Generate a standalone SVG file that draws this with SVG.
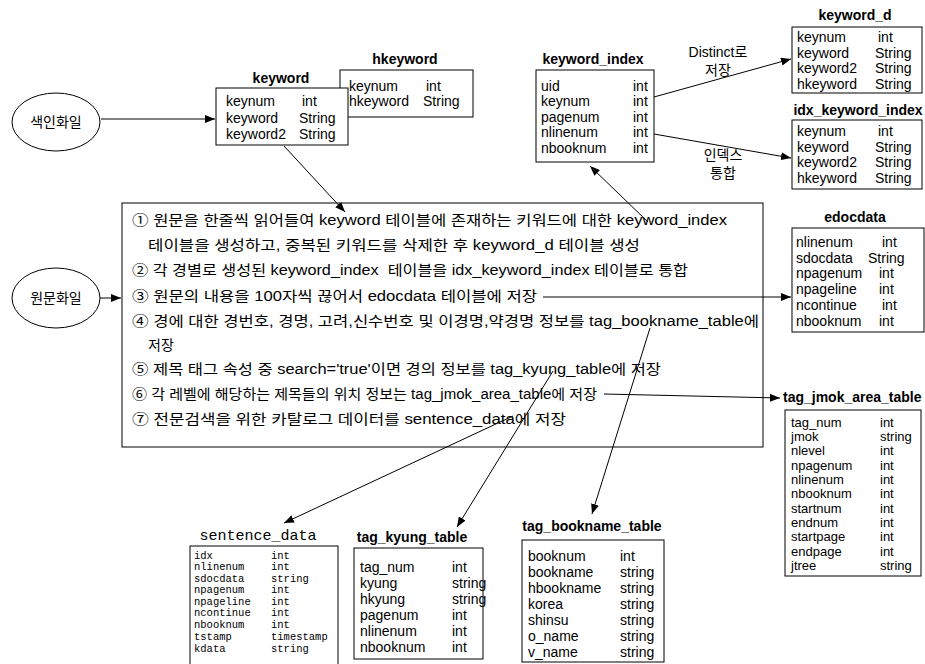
<svg xmlns="http://www.w3.org/2000/svg" width="925" height="664" viewBox="0 0 925 664">
<style>
text { font-family: "Liberation Sans", "Noto Sans CJK KR", sans-serif; font-size: 14px; fill: #000; }
.h { font-weight: bold; font-size: 14px; text-anchor: middle; }
.sm { font-size: 13px; }
.mono { font-family: "Liberation Mono", "Noto Sans CJK KR", monospace; font-size: 10.5px; }
.monoh { font-family: "Liberation Mono", "Noto Sans CJK KR", monospace; font-size: 15px; text-anchor: middle; }
.c { text-anchor: middle; }
.box { fill: #fff; stroke: #000; stroke-width: 1; }
.ln { fill: none; stroke: #000; stroke-width: 1; marker-end: url(#ah); }
</style>
<defs>
<marker id="ah" markerUnits="userSpaceOnUse" markerWidth="10" markerHeight="8" refX="10" refY="4" orient="auto">
<path d="M0,0 L10,4 L0,8 z" fill="#000"/>
</marker>
</defs>
<rect width="925" height="664" fill="#fff"/>

<g id="n-saegin">
<ellipse class="box" cx="56" cy="122" rx="44" ry="29"/>
<text class="c" x="56" y="127">색인화일</text>
</g>

<g id="n-wonmun">
<ellipse class="box" cx="56" cy="298" rx="44" ry="30"/>
<text class="c" x="56" y="303">원문화일</text>
</g>

<g id="n-hkeyword">
<text class="h" x="405" y="64">hkeyword</text>
<rect class="box" x="340" y="70" width="133" height="47"/>
<text x="349" y="91">keynum</text><text x="426" y="91">int</text>
<text x="349" y="106">hkeyword</text><text x="423" y="106">String</text>
</g>

<g id="n-keyword">
<text class="h" x="281" y="83">keyword</text>
<rect class="box" x="216" y="88" width="132" height="57"/>
<text x="226" y="106">keynum</text><text x="302" y="106">int</text>
<text x="226" y="123">keyword</text><text x="299" y="123">String</text>
<text x="226" y="139">keyword2</text><text x="299" y="139">String</text>
</g>

<g id="n-keyword_index">
<text class="h" x="593" y="64">keyword_index</text>
<rect class="box" x="536" y="70" width="118" height="92"/>
<text x="541" y="91">uid</text><text x="633" y="91">int</text>
<text x="541" y="106">keynum</text><text x="633" y="106">int</text>
<text x="541" y="122">pagenum</text><text x="633" y="122">int</text>
<text x="541" y="137">nlinenum</text><text x="633" y="137">int</text>
<text x="541" y="153">nbooknum</text><text x="633" y="153">int</text>
</g>

<g id="n-keyword_d">
<text class="h" x="855" y="20">keyword_d</text>
<rect class="box" x="792" y="27" width="130" height="66"/>
<text x="797" y="42">keynum</text><text x="878" y="42">int</text>
<text x="797" y="58">keyword</text><text x="875" y="58">String</text>
<text x="797" y="73">keyword2</text><text x="875" y="73">String</text>
<text x="797" y="89">hkeyword</text><text x="875" y="89">String</text>
</g>

<g id="n-idx_keyword_index">
<text class="h" x="858" y="115">idx_keyword_index</text>
<rect class="box" x="792" y="120" width="130" height="69"/>
<text x="797" y="136">keynum</text><text x="878" y="136">int</text>
<text x="797" y="152">keyword</text><text x="875" y="152">String</text>
<text x="797" y="167">keyword2</text><text x="875" y="167">String</text>
<text x="797" y="183">hkeyword</text><text x="875" y="183">String</text>
</g>

<g id="n-process">
<rect class="box" x="122" y="203" width="641" height="244"/>
<text x="132" y="225" textLength="595" lengthAdjust="spacingAndGlyphs">① 원문을 한줄씩 읽어들여 keyword 테이블에 존재하는 키워드에 대한 keyword_index</text>
<text x="148" y="250" textLength="492" lengthAdjust="spacingAndGlyphs">테이블을 생성하고, 중복된 키워드를 삭제한 후 keyword_d 테이블 생성</text>
<text x="132" y="275" textLength="556" lengthAdjust="spacingAndGlyphs" xml:space="preserve">② 각 경별로 생성된 keyword_index  테이블을 idx_keyword_index 테이블로 통합</text>
<text x="132" y="301" textLength="405" lengthAdjust="spacingAndGlyphs">③ 원문의 내용을 100자씩 끊어서 edocdata 테이블에 저장</text>
<text x="132" y="326" textLength="627" lengthAdjust="spacingAndGlyphs">④ 경에 대한 경번호, 경명, 고려,신수번호 및 이경명,약경명 정보를 tag_bookname_table에</text>
<text x="148" y="350">저장</text>
<text x="132" y="374" textLength="529" lengthAdjust="spacingAndGlyphs">⑤ 제목 태그 속성 중 search='true'이면 경의 정보를 tag_kyung_table에 저장</text>
<text x="132" y="399" textLength="465" lengthAdjust="spacingAndGlyphs">⑥ 각 레벨에 해당하는 제목들의 위치 정보는 tag_jmok_area_table에 저장</text>
<text x="132" y="424" textLength="434" lengthAdjust="spacingAndGlyphs">⑦ 전문검색을 위한 카탈로그 데이터를 sentence_data에 저장</text>
</g>

<g id="n-edocdata">
<text class="h" x="855" y="222">edocdata</text>
<rect class="box" x="792" y="228" width="132" height="104"/>
<text x="796" y="247">nlinenum</text><text x="882" y="247">int</text>
<text x="796" y="263">sdocdata</text><text x="868" y="263">String</text>
<text x="796" y="278">npagenum</text><text x="879" y="278">int</text>
<text x="796" y="294">npageline</text><text x="879" y="294">int</text>
<text x="796" y="310">ncontinue</text><text x="882" y="310">int</text>
<text x="796" y="326">nbooknum</text><text x="879" y="326">int</text>
</g>

<g id="n-tag_jmok_area_table">
<text class="h" x="783" y="402" style="text-anchor:start">tag_jmok_area_table</text>
<rect class="box" x="785" y="410" width="136" height="166"/>
<text class="sm" x="791" y="427">tag_num</text><text class="sm" x="880" y="427">int</text>
<text class="sm" x="791" y="441">jmok</text><text class="sm" x="880" y="441">string</text>
<text class="sm" x="791" y="455">nlevel</text><text class="sm" x="880" y="455">int</text>
<text class="sm" x="791" y="470">npagenum</text><text class="sm" x="880" y="470">int</text>
<text class="sm" x="791" y="484">nlinenum</text><text class="sm" x="880" y="484">int</text>
<text class="sm" x="791" y="498">nbooknum</text><text class="sm" x="880" y="498">int</text>
<text class="sm" x="791" y="513">startnum</text><text class="sm" x="880" y="513">int</text>
<text class="sm" x="791" y="527">endnum</text><text class="sm" x="880" y="527">int</text>
<text class="sm" x="791" y="541">startpage</text><text class="sm" x="880" y="541">int</text>
<text class="sm" x="791" y="556">endpage</text><text class="sm" x="880" y="556">int</text>
<text class="sm" x="791" y="570">jtree</text><text class="sm" x="880" y="570">string</text>
</g>

<g id="n-sentence_data">
<text class="monoh" x="258" y="540">sentence_data</text>
<rect class="box" x="190" y="546" width="148" height="120"/>
<text class="mono" x="194" y="559">idx</text><text class="mono" x="271" y="559">int</text>
<text class="mono" x="194" y="570">nlinenum</text><text class="mono" x="271" y="570">int</text>
<text class="mono" x="194" y="582">sdocdata</text><text class="mono" x="271" y="582">string</text>
<text class="mono" x="194" y="593">npagenum</text><text class="mono" x="271" y="593">int</text>
<text class="mono" x="194" y="605">npageline</text><text class="mono" x="271" y="605">int</text>
<text class="mono" x="194" y="616">ncontinue</text><text class="mono" x="271" y="616">int</text>
<text class="mono" x="194" y="628">nbooknum</text><text class="mono" x="271" y="628">int</text>
<text class="mono" x="194" y="640">tstamp</text><text class="mono" x="271" y="640">timestamp</text>
<text class="mono" x="194" y="652">kdata</text><text class="mono" x="271" y="652">string</text>
</g>

<g id="n-tag_kyung_table">
<text class="h" x="412" y="542">tag_kyung_table</text>
<rect class="box" x="354" y="548" width="129" height="111"/>
<text x="360" y="572">tag_num</text><text x="452" y="572">int</text>
<text x="360" y="588">kyung</text><text x="452" y="588">string</text>
<text x="360" y="604">hkyung</text><text x="452" y="604">string</text>
<text x="360" y="620">pagenum</text><text x="452" y="620">int</text>
<text x="360" y="636">nlinenum</text><text x="452" y="636">int</text>
<text x="360" y="652">nbooknum</text><text x="452" y="652">int</text>
</g>

<g id="n-tag_bookname_table">
<text class="h" x="592" y="531">tag_bookname_table</text>
<rect class="box" x="522" y="540" width="142" height="122"/>
<text x="528" y="561">booknum</text><text x="620" y="561">int</text>
<text x="528" y="577">bookname</text><text x="620" y="577">string</text>
<text x="528" y="593">hbookname</text><text x="620" y="593">string</text>
<text x="528" y="609">korea</text><text x="620" y="609">string</text>
<text x="528" y="625">shinsu</text><text x="620" y="625">string</text>
<text x="528" y="641">o_name</text><text x="620" y="641">string</text>
<text x="528" y="657">v_name</text><text x="620" y="657">string</text>
</g>

<g id="connectors">
<line class="ln" x1="101" y1="119" x2="215" y2="119"/>
<line class="ln" x1="284" y1="146" x2="345" y2="212"/>
<line class="ln" x1="648" y1="222" x2="590" y2="166"/>
<line class="ln" x1="654" y1="97" x2="791" y2="59"/>
<line class="ln" x1="654" y1="134" x2="791" y2="158"/>
<line class="ln" x1="100" y1="298" x2="121" y2="298"/>
<line class="ln" x1="543" y1="297" x2="791" y2="297"/>
<line class="ln" x1="604" y1="394" x2="780" y2="398"/>
<line class="ln" x1="513" y1="416" x2="284" y2="523"/>
<line class="ln" x1="553" y1="371" x2="457" y2="527"/>
<line class="ln" x1="650" y1="328" x2="592" y2="514"/>
<text class="c" x="718" y="57">Distinct로</text>
<text class="c" x="718" y="75">저장</text>
<text class="c" x="723" y="160">인덱스</text>
<text class="c" x="723" y="178">통합</text>
</g>
</svg>
